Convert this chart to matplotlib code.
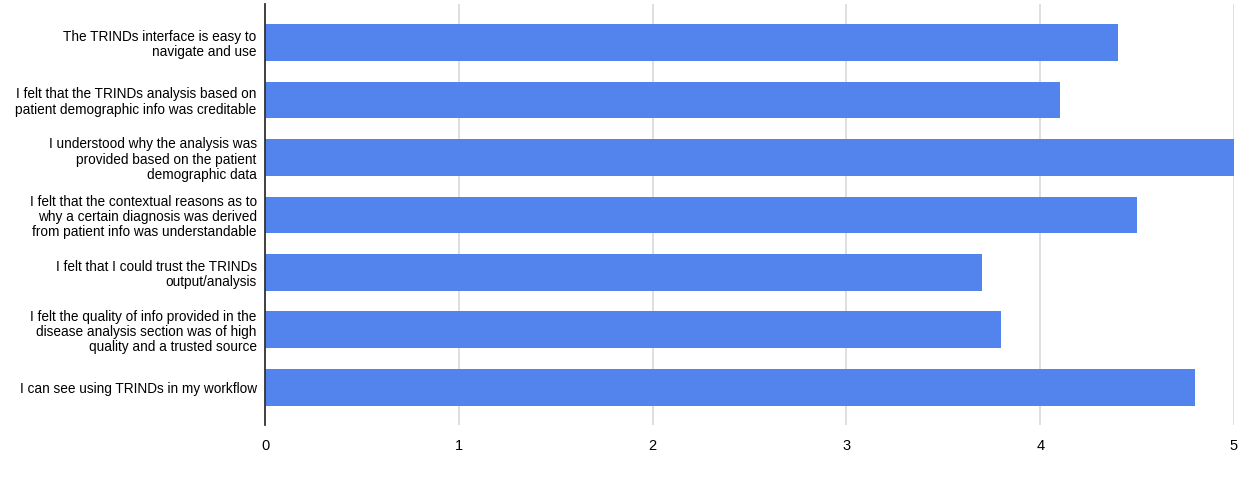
import matplotlib
matplotlib.use("Agg")
import matplotlib.pyplot as plt

categories = [
    "The TRINDs interface is easy to\nnavigate and use",
    "I felt that the TRINDs analysis based on\npatient demographic info was creditable",
    "I understood why the analysis was\nprovided based on the patient\ndemographic data",
    "I felt that the contextual reasons as to\nwhy a certain diagnosis was derived\nfrom patient info was understandable",
    "I felt that I could trust the TRINDs\noutput/analysis",
    "I felt the quality of info provided in the\ndisease analysis section was of high\nquality and a trusted source",
    "I can see using TRINDs in my workflow",
]
values = [4.4, 4.1, 5.0, 4.5, 3.7, 3.8, 4.8]
xticks = [0, 1, 2, 3, 4, 5]

plt.rcParams['font.family'] = ['Liberation Sans', 'DejaVu Sans']

fig = plt.figure(figsize=(12.5, 4.88), dpi=100)
ax = fig.add_axes([265/1250, 1-425/488, (1234-265)/1250, 421/488])

pos = list(range(len(categories)))
ax.barh(pos, values, height=0.64, color='#5383ec', zorder=3)

ax.set_xlim(0, 5)
ax.set_ylim(6.655, -0.67)
ax.set_yticks(pos)
ax.set_yticklabels(categories, fontsize=9.8, linespacing=1.1)
ax.set_xticks(xticks)
ax.set_xticklabels([str(t) for t in xticks], fontsize=10.5)
ax.tick_params(axis='both', length=0)
ax.tick_params(axis='y', pad=6)
ax.tick_params(axis='x', pad=10)
ax.grid(axis='x', color='#d9d9d9', linewidth=1.2, zorder=0)
for s in ['top', 'right', 'bottom']:
    ax.spines[s].set_visible(False)
ax.spines['left'].set_color('#333333')
ax.spines['left'].set_linewidth(1.3)
ax.spines['left'].set_zorder(4)

fig.savefig('out.png', dpi=100)
